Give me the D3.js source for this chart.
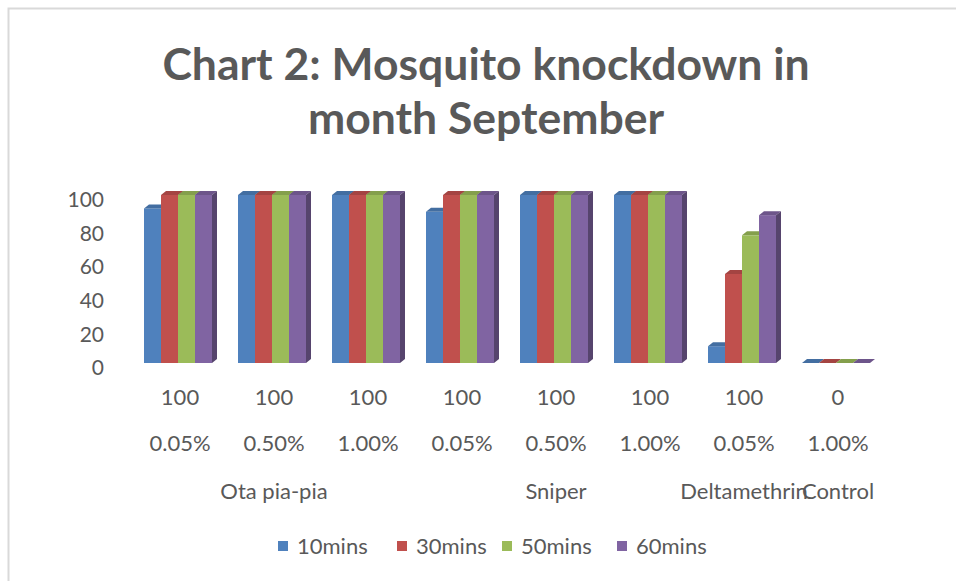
<!DOCTYPE html>
<html>
<head>
<meta charset="utf-8">
<script src="https://cdn.jsdelivr.net/npm/d3@7"></script>
<style>
  html, body { margin: 0; padding: 0; background: #fff; }
  svg { display: block; font-family: Lato, "Open Sans", sans-serif; }
</style>
</head>
<body>
<svg id="chart" width="956" height="581"></svg>
<script>
// data
const doses = ["100", "100", "100", "100", "100", "100", "100", "0"];
const concentrations = ["0.05%", "0.50%", "1.00%", "0.05%", "0.50%", "1.00%", "0.05%", "1.00%"];
const products = ["Ota pia-pia", "Ota pia-pia", "Ota pia-pia", "Sniper", "Sniper", "Sniper", "Deltamethrin", "Control"];
const series = ["10mins", "30mins", "50mins", "60mins"];
const mins10 = [92, 100, 100, 90, 100, 100, 10, 0];
const mins30 = [100, 100, 100, 100, 100, 100, 53, 0];
const mins50 = [100, 100, 100, 100, 100, 100, 76, 0];
const mins60 = [100, 100, 100, 100, 100, 100, 88, 0];
const yTicks = [0, 20, 40, 60, 80, 100];

const values = [mins10, mins30, mins50, mins60];
const colors = ["#4f81bd", "#c0504d", "#9bbb59", "#8064a2"];

const svg = d3.select("#chart");

// outer frame
svg.append("rect")
    .attr("x", 8.5).attr("y", 8.5)
    .attr("width", 1000).attr("height", 1000)
    .attr("fill", "none")
    .attr("stroke", "#d9d9d9")
    .attr("stroke-width", 2);

// title
const title = svg.append("text")
    .attr("text-anchor", "middle")
    .attr("fill", "#595959")
    .attr("font-weight", "bold")
    .attr("font-size", 44.5);
title.append("tspan").attr("x", 486).attr("y", 80).text("Chart 2: Mosquito knockdown in");
title.append("tspan").attr("x", 486).attr("y", 134).text("month September");

const cats = d3.range(doses.length);
const x = d3.scaleBand().domain(cats).range([133, 885]);
const xs = d3.scaleBand().domain(d3.range(series.length)).range([0, 68]);
const y = d3.scaleLinear().domain([0, 100]).range([363, 195]);

const dx = 5, dy = -4;

// y axis labels (no line, no ticks)
const yAxis = svg.append("g")
    .attr("transform", "translate(104,5)")
    .call(d3.axisLeft(y).tickValues(yTicks).tickSize(0).tickPadding(0));
yAxis.select(".domain").remove();
yAxis.selectAll("text")
    .attr("fill", "#595959")
    .attr("font-size", 21)
    .attr("font-family", "Lato, sans-serif");

// 3D-ish bars
const shade = (c, k) => d3.color(c).darker(k).formatHex();
const bars = svg.append("g");
cats.forEach(i => {
    const x0 = x(i) + x.bandwidth() / 2 - 36;
    series.forEach((s, j) => {
        const v = values[j][i];
        const bx = x0 + xs(j), bw = xs.bandwidth();
        const top = y(v), bottom = y(0);
        const g = bars.append("g");
        g.append("rect")
            .attr("x", bx).attr("y", top)
            .attr("width", bw).attr("height", bottom - top)
            .attr("fill", colors[j]);
        g.append("path")
            .attr("d", `M${bx},${top}L${bx + dx},${top + dy}L${bx + bw + dx},${top + dy}L${bx + bw},${top}Z`)
            .attr("fill", shade(colors[j], 0.45));
        g.append("path")
            .attr("d", `M${bx + bw},${top}L${bx + bw + dx},${top + dy}L${bx + bw + dx},${bottom + dy}L${bx + bw},${bottom}Z`)
            .attr("fill", shade(colors[j], 1.1));
    });
});

// category labels, three levels
const lab = svg.append("g")
    .attr("fill", "#595959")
    .attr("font-size", 22)
    .attr("text-anchor", "middle");
lab.selectAll(".dose").data(cats).join("text")
    .attr("x", i => x(i) + x.bandwidth() / 2)
    .attr("y", 405)
    .text(i => doses[i]);
lab.selectAll(".conc").data(cats).join("text")
    .attr("x", i => x(i) + x.bandwidth() / 2)
    .attr("y", 451)
    .text(i => concentrations[i]);
const groups = d3.groups(cats, i => products[i]);
lab.selectAll(".prod").data(groups).join("text")
    .attr("x", d => d3.mean(d[1], i => x(i) + x.bandwidth() / 2))
    .attr("y", 499)
    .text(d => d[0]);

// legend
const legendX = [278, 397, 502, 617];
const legend = svg.append("g").attr("font-size", 22).attr("fill", "#595959");
series.forEach((s, j) => {
    const item = legend.append("g").attr("transform", `translate(${legendX[j]},546)`);
    item.append("rect").attr("x", 0).attr("y", -5).attr("width", 10).attr("height", 10).attr("fill", colors[j]);
    item.append("text").attr("x", 19).attr("y", 8).text(s);
});
</script>
</body>
</html>
